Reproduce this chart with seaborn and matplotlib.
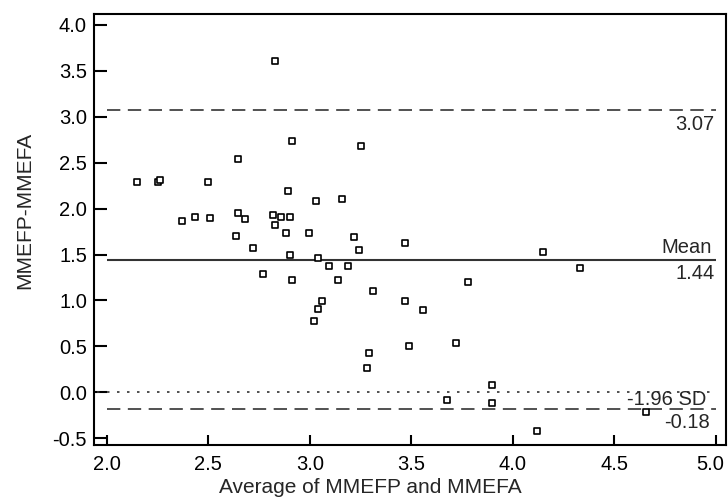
import numpy as np
import pandas as pd
import matplotlib
matplotlib.use("Agg")
import matplotlib.pyplot as plt
import matplotlib.transforms as mtransforms
import seaborn as sns

# Bland-Altman data
avg = [2.15, 2.25, 2.26, 2.50, 2.645, 2.83, 2.91, 3.25, 2.89, 3.03,
       3.16, 2.37, 2.435, 2.51, 2.645, 2.68, 2.82, 2.86, 2.90, 2.83,
       2.635, 2.885, 2.995, 2.72, 2.90, 3.04, 2.77, 2.91, 3.22, 3.24,
       3.47, 3.095, 3.19, 3.14, 3.31, 3.78, 3.47, 3.56, 3.06, 3.04,
       3.02, 3.29, 3.28, 3.49, 4.15, 4.33, 3.72, 3.90, 3.675, 3.90,
       4.655, 4.12]
diff = [2.29, 2.29, 2.31, 2.29, 2.54, 3.61, 2.74, 2.68, 2.19, 2.08,
        2.10, 1.87, 1.91, 1.90, 1.95, 1.89, 1.93, 1.91, 1.91, 1.82,
        1.70, 1.74, 1.74, 1.57, 1.50, 1.46, 1.29, 1.22, 1.69, 1.555,
        1.63, 1.37, 1.38, 1.22, 1.10, 1.20, 0.99, 0.90, 0.99, 0.91,
        0.78, 0.43, 0.26, 0.50, 1.53, 1.35, 0.54, 0.08, -0.08, -0.12,
        -0.21, -0.42]

mean_diff = 1.44
upper = 3.07
lower = -0.18
xticks = [2.0, 2.5, 3.0, 3.5, 4.0, 4.5, 5.0]
yticks = [-0.5, 0.0, 0.5, 1.0, 1.5, 2.0, 2.5, 3.0, 3.5, 4.0]

df = pd.DataFrame({"avg": avg, "diff": diff})

sns.set_style("ticks")
plt.rcParams["font.family"] = ["Liberation Sans", "DejaVu Sans"]

fig = plt.figure(figsize=(7.28, 4.98), dpi=100)
ax = fig.add_axes([0.129, 0.106, 0.868, 0.866])

sns.scatterplot(data=df, x="avg", y="diff", marker="s", s=20,
                facecolor="white", edgecolor="black", linewidth=1.2,
                ax=ax, zorder=3)

# reference lines
ax.hlines(upper, 2.0, 5.0, colors="#333333", linewidth=1.2,
          linestyles=(0, (8, 4.5)))
ax.hlines(lower, 2.0, 5.0, colors="#333333", linewidth=1.2,
          linestyles=(0, (8, 4.5)))
ax.hlines(mean_diff, 2.0, 5.0, colors="#333333", linewidth=1.5)
ax.hlines(0.0, 1.95, 5.0, colors="#333333", linewidth=1.2,
          linestyles=(0, (1.5, 4.5)))

fs = 14.5
ax.annotate(f"{upper:.2f}", (5.0, upper), xytext=(-1, -3), textcoords="offset points",
            ha="right", va="top", fontsize=fs)
ax.annotate("Mean", (5.0, mean_diff), xytext=(-3, 2), textcoords="offset points",
            ha="right", va="bottom", fontsize=fs)
ax.annotate(f"{mean_diff:.2f}", (5.0, mean_diff), xytext=(-1, -3), textcoords="offset points",
            ha="right", va="top", fontsize=fs)
ax.annotate("-1.96 SD", (5.0, lower), xytext=(-7, 0), textcoords="offset points",
            ha="right", va="bottom", fontsize=fs)
ax.annotate(f"{lower:.2f}", (5.0, lower), xytext=(-4, -3), textcoords="offset points",
            ha="right", va="top", fontsize=fs)

ax.set_xlim(1.936, 5.05)
ax.set_ylim(-0.576, 4.12)
ax.set_xticks(xticks)
ax.set_yticks(yticks)
ax.set_xticklabels([f"{t:.1f}" for t in xticks], fontsize=fs)
ax.set_yticklabels([f"{t:.1f}" for t in yticks], fontsize=fs)
ax.tick_params(axis="y", direction="in", length=9.5, width=1.5, pad=5, colors="black")
ax.tick_params(axis="x", direction="in", length=7, width=1.5, pad=7, colors="black")

# nudge the last x label so it stays inside the canvas
last = ax.get_xticklabels()[-1]
last.set_transform(last.get_transform() +
                   mtransforms.ScaledTranslation(-4 / 72, 0, fig.dpi_scale_trans))

for sp in ax.spines.values():
    sp.set_visible(True)
    sp.set_linewidth(1.5)
    sp.set_color("black")

ax.set_xlabel("Average of MMEFP and MMEFA", fontsize=15)
ax.set_ylabel("MMEFP-MMEFA", fontsize=15)
ax.xaxis.set_label_coords(0.437, -0.077)
ax.yaxis.set_label_coords(-0.095, 0.545)

fig.savefig("out.png", dpi=100)
